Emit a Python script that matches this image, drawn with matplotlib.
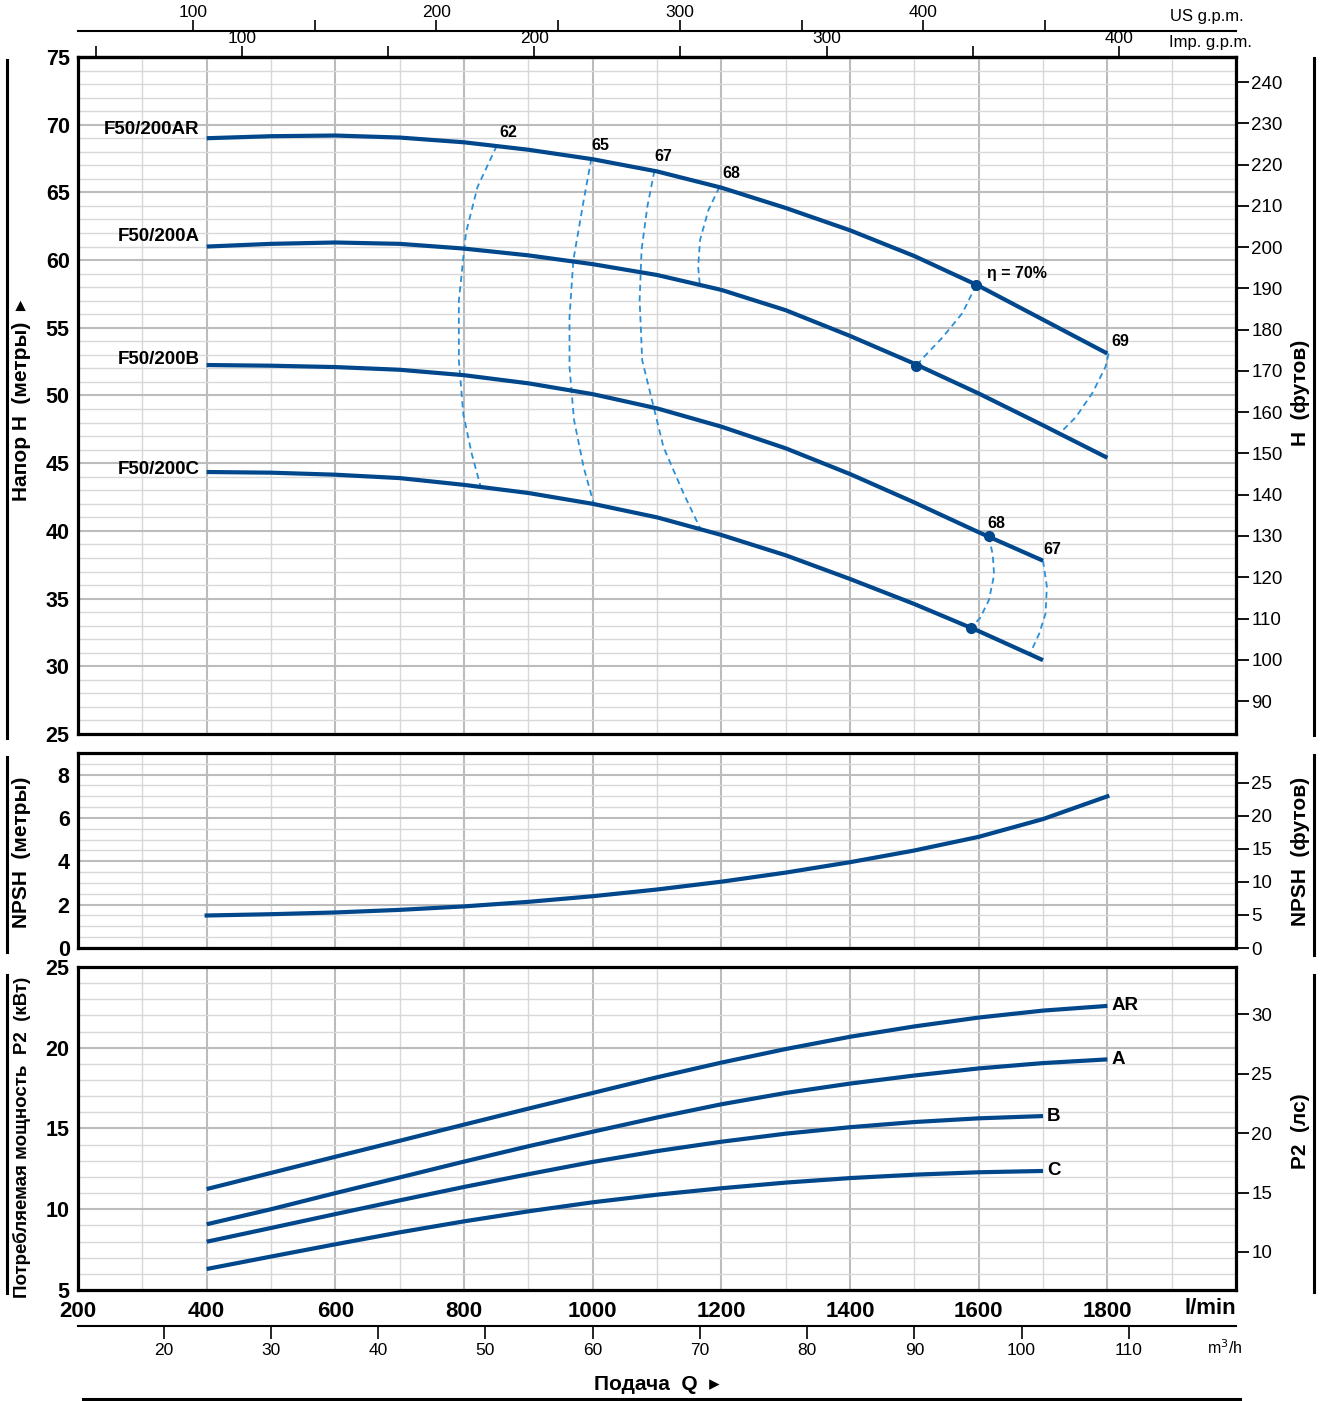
import matplotlib
matplotlib.use("Agg")
import matplotlib.pyplot as plt
from matplotlib.ticker import MultipleLocator
from matplotlib.lines import Line2D

plt.rcParams['font.family'] = ['Liberation Sans', 'DejaVu Sans']
NARROW = ['Liberation Sans Narrow', 'Liberation Sans', 'DejaVu Sans']

CURVE = '#00478c'
DASH = '#2a8fd8'

# flow points, l/min
q_long = [400, 500, 600, 700, 800, 900, 1000, 1100, 1200, 1300, 1400, 1500, 1600, 1700, 1800]
q_short = [400, 500, 600, 700, 800, 900, 1000, 1100, 1200, 1300, 1400, 1500, 1600, 1700]

# head, m
head_ar = [69.0, 69.15, 69.2, 69.05, 68.7, 68.15, 67.45, 66.55, 65.35, 63.85, 62.2, 60.3, 58.1, 55.6, 53.1]
head_a = [61.0, 61.2, 61.3, 61.2, 60.85, 60.35, 59.7, 58.9, 57.8, 56.3, 54.4, 52.35, 50.15, 47.8, 45.4]
head_b = [52.25, 52.2, 52.1, 51.9, 51.5, 50.9, 50.1, 49.05, 47.7, 46.1, 44.2, 42.1, 39.9, 37.8]
head_c = [44.35, 44.3, 44.15, 43.9, 43.4, 42.8, 42.0, 41.0, 39.7, 38.2, 36.45, 34.6, 32.6, 30.45]
head_names = ['F50/200AR', 'F50/200A', 'F50/200B', 'F50/200C']

# NPSH required, m
npsh = [1.5, 1.56, 1.64, 1.76, 1.92, 2.13, 2.39, 2.7, 3.06, 3.48, 3.96, 4.5, 5.13, 5.95, 7.0]

# shaft power P2, kW
power_ar = [11.25, 12.25, 13.25, 14.24, 15.24, 16.23, 17.2, 18.17, 19.08, 19.92, 20.68, 21.32, 21.87, 22.3, 22.59]
power_a = [9.07, 10.0, 11.0, 11.97, 12.95, 13.9, 14.8, 15.68, 16.5, 17.2, 17.78, 18.28, 18.72, 19.05, 19.28]
power_b = [7.99, 8.84, 9.7, 10.55, 11.38, 12.17, 12.93, 13.6, 14.18, 14.68, 15.08, 15.4, 15.63, 15.77]
power_c = [6.3, 7.07, 7.83, 8.57, 9.25, 9.87, 10.43, 10.9, 11.3, 11.65, 11.93, 12.14, 12.29, 12.37]
power_names = ['AR', 'A', 'B', 'C']

# iso-efficiency lines (Q l/min, H m)
eff62_q = [851, 821, 803, 792, 792, 799, 812, 826]
eff62_h = [68.45, 65.4, 62.0, 57.0, 52.6, 48.6, 45.7, 43.25]
eff65_q = [998, 986, 970, 964, 964, 971, 986, 1002]
eff65_h = [67.5, 64.4, 60.0, 55.8, 52.1, 48.2, 44.7, 41.95]
eff67_q = [1096, 1085, 1076, 1073, 1077, 1092, 1110, 1141, 1167]
eff67_h = [66.6, 63.95, 60.75, 57.05, 52.6, 49.7, 46.2, 42.8, 40.2]
eff68_q = [1197, 1180, 1167, 1164, 1167]
eff68_h = [65.4, 63.7, 61.5, 59.5, 57.95]
eff69_q = [1802, 1797, 1777, 1751, 1728]
eff69_h = [53.1, 52.1, 50.2, 48.4, 47.3]
eff70_q = [1596, 1575, 1544, 1518, 1503]
eff70_h = [58.15, 56.1, 54.3, 53.0, 52.2]
eff68b_q = [1616, 1622, 1624, 1616, 1602, 1588]
eff68b_h = [39.6, 38.2, 36.75, 34.9, 33.55, 32.85]
eff67b_q = [1700, 1706, 1704, 1694, 1680]
eff67b_h = [37.8, 35.9, 33.9, 32.4, 30.95]
eff_labels = ['62', '65', '67', '68', '69', 'η = 70%', '68', '67']


def style_panel(ax, ymin, ymax, yminor, ylabels):
    ax.set_xlim(200, 2000)
    ax.set_ylim(ymin, ymax)
    ax.xaxis.set_major_locator(MultipleLocator(200))
    ax.xaxis.set_minor_locator(MultipleLocator(100))
    ax.yaxis.set_minor_locator(MultipleLocator(yminor))
    ax.set_yticks(ylabels, labels=[str(v) for v in ylabels], fontsize=15.5,
                  fontweight='bold', family=NARROW)
    ax.grid(which='major', color='#bcbcbc', lw=1.5)
    ax.grid(which='minor', color='#d8d8d8', lw=1.0)
    ax.set_axisbelow(True)
    for s in ax.spines.values():
        s.set_linewidth(2.3)
        s.set_color('black')
    ax.tick_params(which='both', length=0)
    ax.tick_params(axis='x', labelbottom=False)
    ax.tick_params(axis='y', pad=6)


def right_axis(ax, factor, ticks):
    sec = ax.secondary_yaxis('right', functions=(lambda v: v * factor, lambda v: v / factor))
    sec.set_ticks(ticks, labels=[str(t) for t in ticks], fontsize=13.5, family=NARROW)
    sec.tick_params(direction='out', length=9, width=1.3, pad=2)
    sec.spines['right'].set_visible(False)
    return sec


fig = plt.figure(figsize=(13.2, 14.01), dpi=100)
ax_h = fig.add_axes([0.05909, 0.47609, 0.87727, 0.48323])
ax_n = fig.add_axes([0.05909, 0.32334, 0.87727, 0.13919])
ax_p = fig.add_axes([0.05909, 0.07923, 0.87727, 0.23055])

style_panel(ax_h, 25, 75, 1, list(range(25, 80, 5)))
style_panel(ax_n, 0, 9, 0.5, [0, 2, 4, 6, 8])
style_panel(ax_p, 5, 25, 1, [5, 10, 15, 20, 25])

# --- head curves ---
head_sets = [(q_long, head_ar), (q_long, head_a), (q_short, head_b), (q_short, head_c)]
name_offsets = [(-5, 6), (-5, 7), (-5, 4), (-5, 2)]
for (qq, hh), name, off in zip(head_sets, head_names, name_offsets):
    ax_h.plot(qq, hh, color=CURVE, lw=3.0, solid_capstyle='butt', solid_joinstyle='round', zorder=3)
    ax_h.annotate(name, (qq[0], hh[0]), xytext=off, textcoords='offset points',
                  ha='right', va='center', fontsize=13.5, fontweight='bold', family=NARROW)

eff_lines = [(eff62_q, eff62_h), (eff65_q, eff65_h), (eff67_q, eff67_h), (eff68_q, eff68_h),
             (eff69_q, eff69_h), (eff70_q, eff70_h), (eff68b_q, eff68b_h), (eff67b_q, eff67b_h)]
label_offsets = [(2, 4), (0, 4), (0, 5), (2, 4), (2, 3), (8, 3), (-1, 4), (0, 3)]
for (qq, hh), lab, off in zip(eff_lines, eff_labels, label_offsets):
    ax_h.plot(qq, hh, color=DASH, lw=1.3, ls=(0, (3.4, 2.4)), zorder=2)
    ax_h.annotate(lab, (qq[0], hh[0]), xytext=off, textcoords='offset points',
                  ha='left', va='bottom', fontsize=11.5, fontweight='bold')

# best efficiency marks on the curves
for qq, hh in [(eff70_q, eff70_h), (eff68b_q, eff68b_h)]:
    ax_h.plot([qq[0], qq[-1]], [hh[0], hh[-1]], 'o', color=CURVE, ms=7, zorder=4)

right_axis(ax_h, 3.2808, list(range(90, 250, 10)))

# flow in gallons along the top
us = ax_h.secondary_xaxis(1.0384, functions=(lambda q: q / 3.785, lambda g: g * 3.785))
us.set_ticks([100, 200, 300, 400], labels=['100', '200', '300', '400'], fontsize=12.5, family=NARROW)
us.set_ticks([150, 250, 350, 450], minor=True)
us.tick_params(which='both', direction='out', length=8, width=1.2, pad=0)
us.spines['top'].set_linewidth(1.5)
imp = ax_h.secondary_xaxis('top', functions=(lambda q: q / 4.546, lambda g: g * 4.546))
imp.set_ticks([100, 200, 300, 400], labels=['100', '200', '300', '400'], fontsize=12.5, family=NARROW)
imp.set_ticks([50, 150, 250, 350], minor=True)
imp.tick_params(which='both', direction='out', length=8, width=1.2, pad=0)
imp.spines['top'].set_linewidth(2.3)
fig.text(1207 / 1320, 1 - 16 / 1401, 'US g.p.m.', ha='center', va='center', fontsize=12, family=NARROW)
fig.text(1210 / 1320, 1 - 42 / 1401, 'Imp. g.p.m.', ha='center', va='center', fontsize=12, family=NARROW)

# --- NPSH ---
ax_n.plot(q_long, npsh, color=CURVE, lw=3.0, solid_joinstyle='round', zorder=3)
right_axis(ax_n, 3.2808, [0, 5, 10, 15, 20, 25])

# --- power ---
power_sets = [(q_long, power_ar), (q_long, power_a), (q_short, power_b), (q_short, power_c)]
for (qq, pp), name in zip(power_sets, power_names):
    ax_p.plot(qq, pp, color=CURVE, lw=3.0, solid_capstyle='butt', solid_joinstyle='round', zorder=3)
    ax_p.annotate(name, (qq[-1], pp[-1]), xytext=(3, 0), textcoords='offset points',
                  ha='left', va='center', fontsize=13.5, fontweight='bold', family=NARROW)
right_axis(ax_p, 1.3596, [10, 15, 20, 25, 30])

ax_p.set_xticks(list(range(200, 2000, 200)), labels=[str(v) for v in range(200, 2000, 200)],
                fontsize=16, fontweight='bold', family=NARROW)
ax_p.tick_params(axis='x', labelbottom=True, pad=8)
fig.text(1236 / 1320, 1 - 1309 / 1401, 'l/min', ha='right', va='center', fontsize=16,
         fontweight='bold', family=NARROW)

m3h = ax_p.secondary_xaxis(-0.111, functions=(lambda q: q * 0.06, lambda m: m / 0.06))
m3h.set_ticks(list(range(20, 120, 10)), labels=[str(v) for v in range(20, 120, 10)], fontsize=12.5)
m3h.tick_params(direction='out', length=9, width=1.2, pad=3)
m3h.spines['bottom'].set_linewidth(1.5)
fig.text(1225 / 1320, 1 - 1348 / 1401, 'm$^3$/h', ha='center', va='center', fontsize=11.5, family=NARROW)


# --- axis titles and side rules ---
def side_rule(x, y0, y1):
    fig.add_artist(Line2D([x / 1320, x / 1320], [1 - y0 / 1401, 1 - y1 / 1401], color='black', lw=2.2))


side_rule(7, 60, 738)
side_rule(7, 757, 952)
side_rule(7, 975, 1293)
side_rule(1314, 58, 735)
side_rule(1314, 755, 955)
side_rule(1314, 975, 1292)
fig.add_artist(Line2D([83 / 1320, 1240 / 1320], [1 - 1399 / 1401] * 2, color='black', lw=2.2))

title_kw = dict(rotation=90, ha='center', va='center', fontweight='bold', family=['Liberation Sans', 'DejaVu Sans'])
fig.text(22 / 1320, 1 - 400 / 1401, 'Напор H  (метры)  ▸', fontsize=15, **title_kw)
fig.text(22 / 1320, 1 - 852 / 1401, 'NPSH  (метры)', fontsize=15, **title_kw)
fig.text(22 / 1320, 1 - 1137 / 1401, 'Потребляемая мощность  P2  (кВт)', fontsize=13.5, **title_kw)
fig.text(1300 / 1320, 1 - 393 / 1401, 'H  (футов)', fontsize=15, **title_kw)
fig.text(1300 / 1320, 1 - 851 / 1401, 'NPSH  (футов)', fontsize=15, **title_kw)
fig.text(1300 / 1320, 1 - 1131 / 1401, 'P2  (лс)', fontsize=15, **title_kw)
fig.text(657 / 1320, 1 - 1385 / 1401, 'Подача  Q  ▸', ha='center', va='center', fontsize=15,
         fontweight='bold', family=['Liberation Sans', 'DejaVu Sans'])

fig.savefig('out.png', dpi=100)
